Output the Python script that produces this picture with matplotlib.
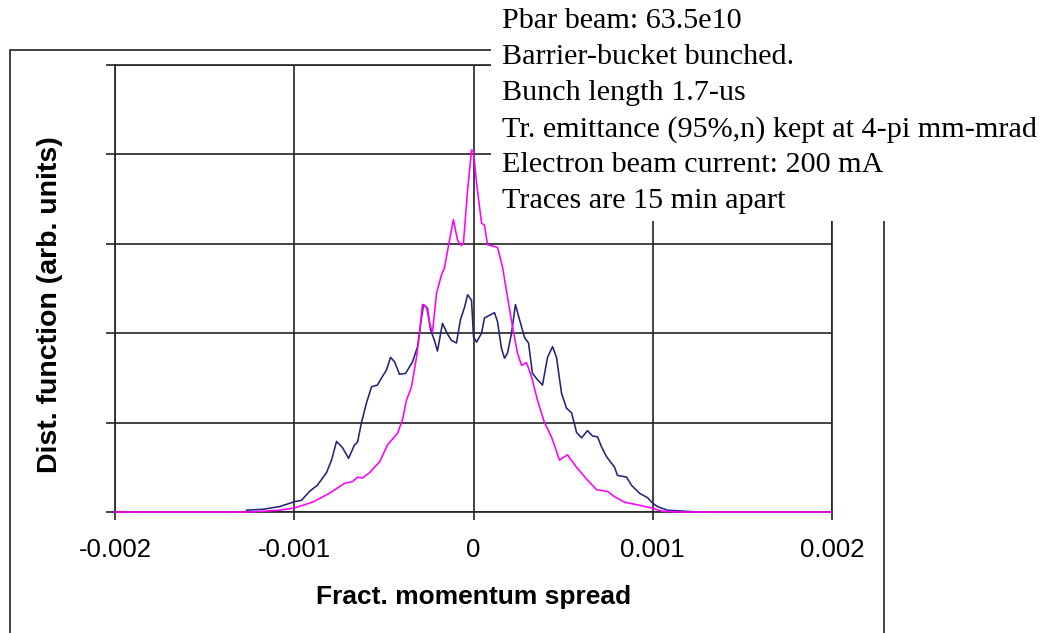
import matplotlib.pyplot as plt
from matplotlib.patches import Rectangle
import numpy as np

W, H = 1043, 633

# fract. momentum spread (units of 1e-3) and distribution (arb. units)
navy_x = np.array([-1.266, -1.177, -1.082, -0.999, -0.960, -0.915, -0.871, -0.820, -0.792, -0.764,
                   -0.731, -0.697, -0.664, -0.647, -0.625, -0.597, -0.569, -0.536, -0.513, -0.485,
                   -0.463, -0.440, -0.413, -0.379, -0.340, -0.312, -0.296, -0.279, -0.257, -0.240,
                   -0.218, -0.201, -0.173, -0.145, -0.123, -0.095, -0.073, -0.050, -0.033, -0.011,
                   0.000, 0.017, 0.045, 0.061, 0.089, 0.117, 0.134, 0.156, 0.173, 0.190,
                   0.212, 0.234, 0.257, 0.285, 0.307, 0.329, 0.357, 0.385, 0.413, 0.441,
                   0.463, 0.491, 0.519, 0.547, 0.575, 0.603, 0.636, 0.664, 0.692, 0.714,
                   0.742, 0.787, 0.803, 0.854, 0.881, 0.926, 0.971, 0.999, 1.027, 1.082, 1.250]) * 1e-3
navy_y = [0.02, 0.03, 0.06, 0.115, 0.13, 0.23, 0.30, 0.44, 0.58, 0.79,
          0.72, 0.60, 0.75, 0.78, 1.00, 1.22, 1.40, 1.42, 1.50, 1.59,
          1.73, 1.68, 1.54, 1.55, 1.68, 1.85, 2.09, 2.32, 2.28, 2.04,
          1.92, 1.80, 2.11, 1.99, 1.92, 1.89, 2.15, 2.29, 2.43, 2.37,
          1.96, 1.90, 2.00, 2.17, 2.20, 2.23, 2.13, 1.83, 1.72, 1.78,
          2.00, 2.32, 2.15, 1.95, 1.89, 1.55, 1.48, 1.42, 1.73, 1.85,
          1.73, 1.33, 1.16, 1.11, 0.89, 0.83, 0.91, 0.85, 0.84, 0.73,
          0.62, 0.50, 0.41, 0.39, 0.30, 0.21, 0.16, 0.10, 0.06, 0.02, 0.0]

pink_x = np.array([-2.0, -1.25, -1.082, -0.999, -0.898, -0.803, -0.720, -0.675, -0.647, -0.619,
                   -0.580, -0.524, -0.480, -0.424, -0.396, -0.374, -0.346, -0.318, -0.301, -0.285,
                   -0.262, -0.245, -0.229, -0.206, -0.179, -0.162, -0.134, -0.112, -0.089, -0.067,
                   -0.056, -0.033, -0.011, 0.000, 0.017, 0.045, 0.061, 0.078, 0.134, 0.162,
                   0.190, 0.218, 0.245, 0.268, 0.296, 0.324, 0.357, 0.396, 0.435, 0.480,
                   0.524, 0.575, 0.630, 0.686, 0.748, 0.787, 0.842, 0.915, 0.993, 1.049,
                   1.149, 2.0]) * 1e-3
pink_y = [0.0, 0.0, 0.02, 0.045, 0.11, 0.21, 0.32, 0.34, 0.39, 0.38,
          0.44, 0.56, 0.75, 0.88, 1.03, 1.25, 1.40, 1.73, 2.00, 2.32,
          2.29, 2.11, 2.01, 2.45, 2.65, 2.73, 3.04, 3.27, 3.04, 2.98,
          3.01, 3.60, 4.05, 4.03, 3.68, 3.23, 3.21, 2.99, 2.96, 2.74,
          2.40, 2.07, 1.78, 1.64, 1.67, 1.51, 1.25, 1.00, 0.84, 0.58,
          0.64, 0.50, 0.37, 0.25, 0.23, 0.17, 0.11, 0.08, 0.045, 0.01,
          0.0, 0.0]

xticks = [-0.002, -0.001, 0, 0.001, 0.002]
xtick_labels = ["-0.002", "-0.001", "0", "0.001", "0.002"]

notes = ["Pbar beam: 63.5e10",
         "Barrier-bucket bunched.",
         "Bunch length 1.7-us",
         "Tr. emittance (95%,n) kept at 4-pi mm-mrad",
         "Electron beam current: 200 mA",
         "Traces are 15 min apart"]

fig = plt.figure(figsize=(W / 100, H / 100), dpi=100)
fig.patch.set_facecolor("white")

# outer chart frame (bottom runs off the picture)
fig.patches.append(Rectangle((10 / W, -0.05), 874 / W, (1 - 50 / H) + 0.05,
                             transform=fig.transFigure, fill=False,
                             edgecolor="#333333", linewidth=1.3, zorder=0.5))

ax = fig.add_axes([115 / W, 1 - 512 / H, 717 / W, 447 / H], zorder=1)
ax.set_facecolor("none")

ax.plot(navy_x, navy_y, color="#23237a", linewidth=1.15, zorder=3, clip_on=False)
ax.plot(pink_x, pink_y, color="#ff00ff", linewidth=1.15, zorder=3.5, clip_on=False)

ax.set_xlim(-0.002, 0.002)
ax.set_ylim(0, 5)
ax.set_xticks(xticks)
ax.set_xticklabels(xtick_labels, family="Liberation Sans", fontsize=18.5)
ax.set_yticks(range(6))
ax.set_yticklabels([])
ax.tick_params(axis="x", direction="out", length=6, width=1.2, pad=13, color="#222222")
ax.tick_params(axis="y", direction="out", length=6.5, width=1.2, color="#222222")
ax.grid(True, color="#222222", linewidth=1.2)
for s in ax.spines.values():
    s.set_color("#222222")
    s.set_linewidth(1.2)

ax.set_xlabel("Fract. momentum spread", family="Liberation Sans", fontsize=19, fontweight="bold")
ax.xaxis.label.set_verticalalignment("center")
ax.xaxis.set_label_coords(0.5, (512 - 597) / 447)
ax.set_ylabel("Dist. function (arb. units)", family="Liberation Sans", fontsize=20.5, fontweight="bold")
ax.yaxis.label.set_verticalalignment("center")
ax.yaxis.set_label_coords((50 - 115) / 717, (512 - 305) / 447)

# white text box over the top right of the chart
fig.patches.append(Rectangle((491 / W, 1 - 221 / H), 1, 221 / H + 0.01,
                             transform=fig.transFigure, facecolor="white",
                             edgecolor="none", zorder=5))
for i, line in enumerate(notes):
    fig.text(502 / W, 1 - (28 + 36.1 * i) / H, line, family="Liberation Serif",
             fontsize=21.7, va="baseline", ha="left", zorder=6)

fig.savefig("out.png", dpi=100)
